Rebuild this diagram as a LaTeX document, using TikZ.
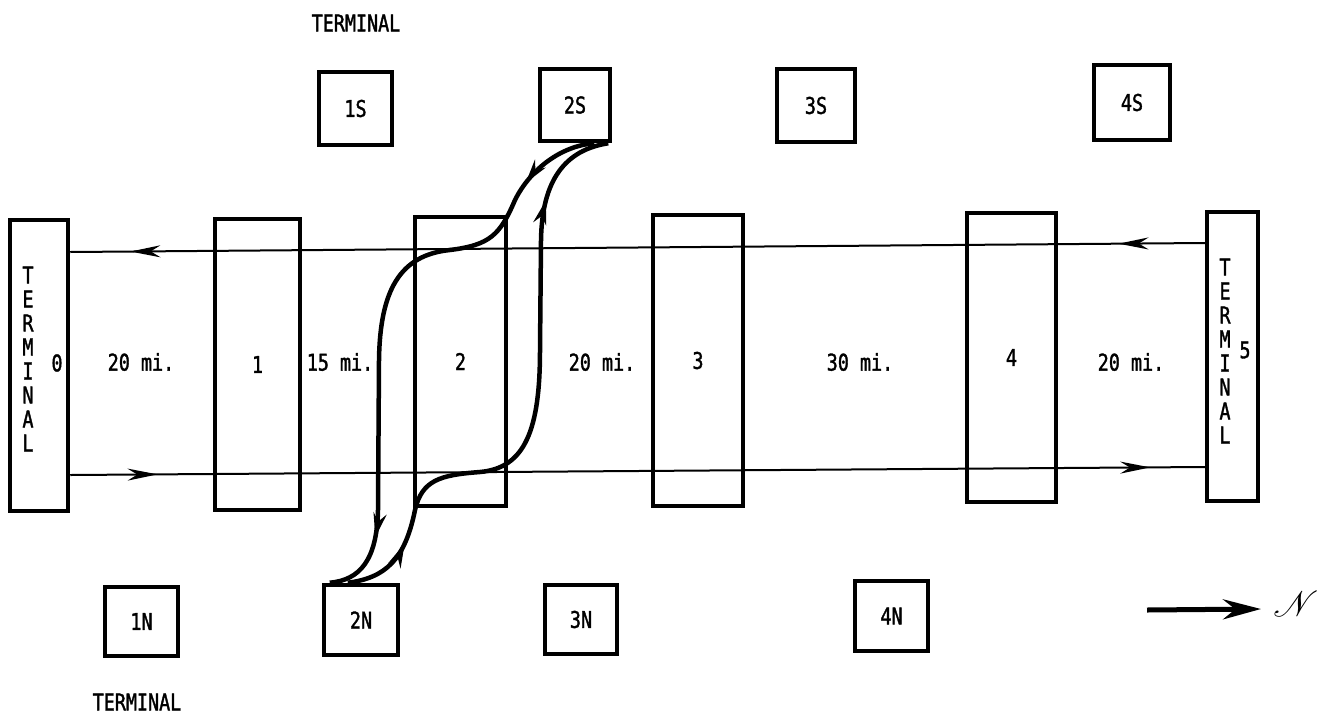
\documentclass[tikz,border=0pt]{standalone}
\usepackage{fontspec}
\setmainfont{DejaVu Sans Mono}[FakeStretch=0.8,FakeBold=1.5]
\usepackage{mathrsfs}
\usetikzlibrary{arrows.meta,decorations.markings}
\newcommand\lblfont{\fontsize{23}{24}\selectfont}
\begin{document}
\begin{tikzpicture}[x=1pt,y=-1pt,
  bigbox/.style={draw, line width=4.5pt, rectangle, inner sep=0pt, font=\lblfont},
  smallbox/.style={draw, line width=4.5pt, rectangle, inner sep=0pt, font=\lblfont},
  lbl/.style={font=\lblfont, inner sep=0pt},
  vlbl/.style={font=\lblfont, inner sep=0pt, align=center},
  track/.style={line width=2pt},
  route/.style={line width=4.5pt},
]
\useasboundingbox (0,0) rectangle (1327,718);

% big boxes
\node[bigbox, minimum width=58pt, minimum height=291pt] (t0) at (39,365.5) {};
\node[bigbox, minimum width=85pt, minimum height=291pt] (b1) at (257.5,364.5) {1};
\node[bigbox, minimum width=91pt, minimum height=289pt] (b2) at (460.5,361.5) {2};
\node[bigbox, minimum width=90pt, minimum height=291pt] (b3) at (698,360.5) {3};
\node[bigbox, minimum width=89pt, minimum height=289pt] (b4) at (1011.5,357.5) {4};
\node[bigbox, minimum width=51pt, minimum height=289pt] (t5) at (1232.5,356.5) {};

% terminal labels
\node[vlbl] (vt0) at (28,359) {T\\E\\R\\M\\I\\N\\A\\L};
\node[vlbl] (vt5) at (1225,351) {T\\E\\R\\M\\I\\N\\A\\L};
\node[lbl] (l0) at (57,363) {0};
\node[lbl] (l5) at (1245,350) {5};

% distances
\node[lbl] (d1) at (141,362) {20 mi.};
\node[lbl] (d2) at (340,362) {15 mi.};
\node[lbl] (d3) at (602,362) {20 mi.};
\node[lbl] (d4) at (860,362) {30 mi.};
\node[lbl] (d5) at (1131,362) {20 mi.};

% small boxes
\node[smallbox, minimum width=73pt, minimum height=73pt] (s1) at (355.5,108.5) {1S};
\node[smallbox, minimum width=70pt, minimum height=72pt] (s2) at (575,105) {2S};
\node[smallbox, minimum width=78pt, minimum height=73pt] (s3) at (816,105.5) {3S};
\node[smallbox, minimum width=76pt, minimum height=75pt] (s4) at (1132,102.5) {4S};
\node[smallbox, minimum width=73pt, minimum height=69pt] (n1) at (141.5,621.5) {1N};
\node[smallbox, minimum width=74pt, minimum height=70pt] (n2) at (361,620) {2N};
\node[smallbox, minimum width=72pt, minimum height=69pt] (n3) at (581,619.5) {3N};
\node[smallbox, minimum width=73pt, minimum height=70pt] (n4) at (891.5,616) {4N};

\node[lbl] (ttop) at (356,23) {TERMINAL};
\node[lbl] (tbot) at (137,702) {TERMINAL};

% tracks
\draw[track, postaction={decorate}, decoration={markings,
    mark=at position 0.076 with {\arrow{Stealth[length=30pt,width=12pt]}},
    mark=at position 0.947 with {\arrow{Stealth[length=30pt,width=12pt]}}}]
  ([yshift=113.5pt]t5.west) -- ([yshift=113.5pt]t0.east);
\draw[track, postaction={decorate}, decoration={markings,
    mark=at position 0.077 with {\arrow{Stealth[length=30pt,width=12pt]}},
    mark=at position 0.952 with {\arrow{Stealth[length=30pt,width=12pt]}}}]
  ([yshift=-109.5pt]t0.east) -- ([yshift=-110.5pt]t5.west);

% routes between 2S and 2N
\draw[route, postaction={decorate}, decoration={markings,
    mark=at position 0.14 with {\arrow{Stealth[length=24pt,width=13pt]}},
    mark=at position 0.88 with {\arrow{Stealth[length=24pt,width=13pt]}}}]
  ([xshift=-18pt]s2.south east) .. controls (560,146) and (530,170) .. (515,200)
  .. controls (500,235) and (490,245) .. (450,250)
  .. controls (400,255) and (380,290) .. (379,360)
  -- (378,510)
  .. controls (377,560) and (360,580) .. ([xshift=8pt]n2.north west);
\draw[route, postaction={decorate}, decoration={markings,
    mark=at position 0.125 with {\arrow{Stealth[length=24pt,width=13pt]}},
    mark=at position 0.845 with {\arrow{Stealth[length=24pt,width=13pt]}}}]
  ([xshift=26pt]n2.north west) .. controls (385,578) and (405,560) .. (415,510)
  .. controls (422,480) and (440,475) .. (480,472)
  .. controls (525,468) and (540,430) .. (540,350)
  -- (541,240)
  .. controls (542,180) and (565,150) .. ([xshift=-4pt]s2.south east);

% north arrow
\coordinate (ns) at (1147,610);
\coordinate (ne) at (1261,609);
\draw[line width=5pt, -{Stealth[length=38pt,width=20pt]}] (ns) -- (ne);
\node[inner sep=0pt] (north) at (1296,604) {\scalebox{3.6}{$\mathscr{N}$}};
\end{tikzpicture}
\end{document}
